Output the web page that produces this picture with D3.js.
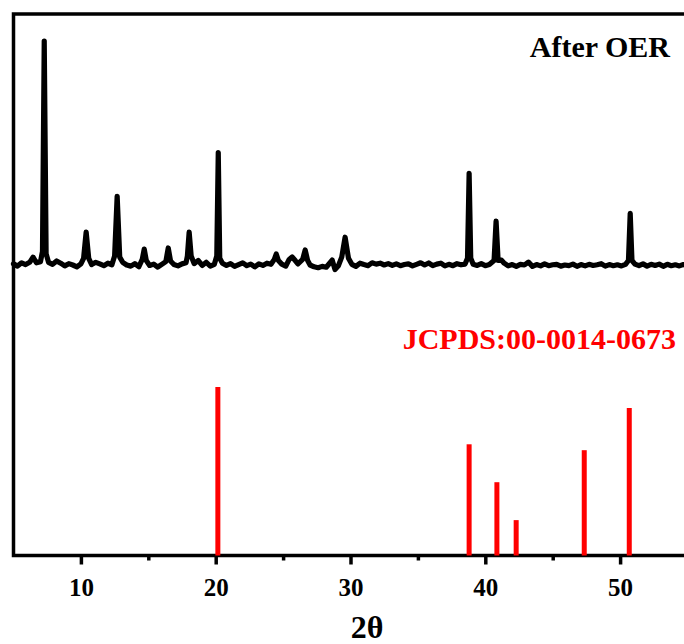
<!DOCTYPE html>
<html>
<head>
<meta charset="utf-8">
<script src="https://cdn.jsdelivr.net/npm/d3@7"></script>
<style>
  body { margin: 0; background: #fff; }
  text { font-family: "Times New Roman", "Liberation Serif", serif; font-weight: bold; }
</style>
</head>
<body>
<script>
// measured pattern, [2theta, intensity (a.u.)]
var pattern = [
  [5.0, 0.5], [5.3, -0.5], [5.6, 1.0], [5.9, 0.2], [6.2, 1.2], [6.45, 3.5], [6.7, 1.0], [7.0, 1.5],
  [7.15, 6], [7.28, 100], [7.42, 5], [7.6, 1.2], [7.9, 0.3], [8.2, 1.8], [8.5, 0.8], [8.8, -0.4],
  [9.1, 0.6], [9.4, 0.0], [9.7, -0.8], [10.0, 0.5], [10.2, 3], [10.39, 14.7], [10.58, 3], [10.8, 0.2],
  [11.1, 1.2], [11.4, 0.5], [11.7, -0.3], [12.0, 0.8], [12.3, 0.1], [12.5, 4], [12.69, 30.7], [12.88, 3.5],
  [13.1, 1.2], [13.4, 0.0], [13.7, -0.5], [14.0, 0.6], [14.3, -0.8], [14.55, 2.5], [14.7, 7.1], [14.85, 2],
  [15.1, -0.2], [15.4, 0.4], [15.7, -0.9], [16.0, 0.3], [16.3, 1.5], [16.48, 7.6], [16.65, 1.8], [16.9, 0.2],
  [17.2, -0.4], [17.5, 0.5], [17.8, 1.0], [17.9, 4], [18.03, 14.7], [18.18, 4], [18.4, 0.6], [18.7, 2.0],
  [19.0, -0.2], [19.3, 1.2], [19.6, -0.5], [19.9, 0.3], [20.08, 4], [20.19, 50.2], [20.3, 3], [20.5, 0.8],
  [20.8, -0.2], [21.1, 0.6], [21.4, -0.6], [21.7, 0.2], [22.0, 1.0], [22.3, -0.3], [22.6, 0.4], [22.9, -0.8],
  [23.2, 0.5], [23.5, -0.2], [23.8, 0.8], [24.1, 0.3], [24.35, 2.5], [24.49, 4.9], [24.65, 2], [24.9, 0.4],
  [25.2, -0.5], [25.45, 2.5], [25.67, 3.6], [25.9, 2.0], [26.1, 0.5], [26.45, 2.5], [26.64, 6.7], [26.82, 2],
  [27.0, 0.0], [27.3, -0.8], [27.6, -1.2], [27.9, -0.6], [28.2, -1.0], [28.45, 0.8], [28.64, 2.2], [28.85, -2.0],
  [29.1, -0.3], [29.35, 3.5], [29.6, 12.4], [29.85, 3], [30.1, 0.3], [30.4, -0.6], [30.7, 0.8], [31.0, 0.2],
  [31.3, -0.3], [31.6, 1.0], [31.9, 0.4], [32.2, 0.8], [32.5, 0.0], [32.8, 0.6], [33.1, -0.2], [33.4, 0.5],
  [33.7, -0.3], [34.0, 0.2], [34.3, 0.5], [34.6, -0.4], [34.9, 0.3], [35.2, 1.0], [35.5, 0.0], [35.8, 0.9],
  [36.1, -0.3], [36.4, 0.4], [36.7, 0.8], [37.0, -0.4], [37.3, 0.3], [37.6, -0.3], [37.9, 0.6], [38.2, 0.1],
  [38.5, 0.4], [38.68, 3], [38.8, 40.9], [38.92, 3], [39.1, 0.3], [39.4, -0.2], [39.7, 0.6], [40.0, -0.3],
  [40.3, 0.2], [40.65, 2], [40.8, 19.6], [40.95, 2], [41.2, 2.2], [41.4, 0.8], [41.7, -0.4], [42.0, 0.2],
  [42.3, -0.6], [42.6, 0.3], [42.9, 0.0], [43.2, 1.3], [43.5, -0.6], [43.8, 0.2], [44.1, -0.4], [44.4, 0.5],
  [44.7, -0.3], [45.0, 0.1], [45.3, 0.3], [45.6, -0.5], [45.9, 0.0], [46.2, -0.3], [46.5, 0.4], [46.8, -0.6],
  [47.1, 0.2], [47.4, -0.4], [47.7, 0.3], [48.0, -0.2], [48.3, 0.1], [48.6, 0.6], [48.9, -0.5], [49.2, 0.2],
  [49.5, -0.3], [49.8, 0.1], [50.1, -0.4], [50.4, 0.3], [50.62, 2], [50.75, 23.1], [50.88, 2], [51.1, 0.4],
  [51.4, -0.3], [51.7, 0.5], [52.0, -0.5], [52.3, 0.3], [52.6, -0.2], [52.9, 0.4], [53.2, -0.6], [53.5, 0.3],
  [53.8, -0.3], [54.1, 0.1], [54.4, -0.4], [54.7, 0.2], [55.0, -0.3]
];

// reference card lines
var refPos = [20.16, 38.8, 40.86, 42.29, 47.34, 50.68];
var refInt = [100, 66, 43.5, 21, 62.5, 87.5];

var majorTicks = [10, 20, 30, 40, 50];
var minorTicks = [15, 25, 35, 45, 55];

var sampleLabel = "After OER";
var refLabel = "JCPDS:00-0014-0673";
var xLabel = "2\u03b8";

var width = 684,
  height = 644,
  mLeft = 13.5,
  mTop = 14,
  mBottom = 555.5;

var x = d3.scaleLinear().domain([5, 56]).range([mLeft, mLeft + 51 * 13.48]);
var yPat = d3.scaleLinear().domain([0, 100]).range([265, 41]);
var yRef = d3.scaleLinear().domain([0, 100]).range([mBottom, 387]);

var svg = d3
  .select("body")
  .append("svg")
  .attr("width", width)
  .attr("height", height);

// frame
svg
  .append("rect")
  .attr("x", mLeft)
  .attr("y", mTop)
  .attr("width", x.range()[1] - mLeft)
  .attr("height", mBottom - mTop)
  .style("fill", "none")
  .style("stroke", "#000")
  .style("stroke-width", 3.5);

var xAxis = d3
  .axisBottom(x)
  .tickValues(majorTicks)
  .tickSize(9)
  .tickSizeOuter(0)
  .tickPadding(14)
  .tickFormat(d3.format("d"));

var gx = svg
  .append("g")
  .attr("transform", "translate(0," + mBottom + ")")
  .call(xAxis);
gx.select(".domain").remove();
gx.selectAll("line").style("stroke", "#000").style("stroke-width", 3.5);
gx.selectAll("text")
  .style("font-size", "25px")
  .style("fill", "#000")
  .attr("dy", "0.71em");

var gm = svg
  .append("g")
  .attr("transform", "translate(0," + mBottom + ")")
  .call(d3.axisBottom(x).tickValues(minorTicks).tickSize(5).tickFormat(""));
gm.select(".domain").remove();
gm.selectAll("line").style("stroke", "#000").style("stroke-width", 3.5);

svg
  .append("text")
  .attr("x", 367)
  .attr("y", 638)
  .style("text-anchor", "middle")
  .style("font-size", "32px")
  .text(xLabel);

// reference sticks
svg
  .append("g")
  .selectAll("line")
  .data(refPos)
  .enter()
  .append("line")
  .attr("x1", function (d) {
    return x(d);
  })
  .attr("x2", function (d) {
    return x(d);
  })
  .attr("y1", yRef(0))
  .attr("y2", function (d, i) {
    return yRef(refInt[i]);
  })
  .style("stroke", "#ff0000")
  .style("stroke-width", 5);

// measured pattern
var line = d3
  .line()
  .x(function (d) {
    return x(d[0]);
  })
  .y(function (d) {
    return yPat(d[1]);
  });

svg
  .append("path")
  .datum(pattern)
  .attr("d", line)
  .style("fill", "none")
  .style("stroke", "#000")
  .style("stroke-width", 5.2)
  .style("stroke-linejoin", "round")
  .style("stroke-linecap", "round");

svg
  .append("text")
  .attr("x", 670)
  .attr("y", 57)
  .style("text-anchor", "end")
  .style("font-size", "30px")
  .text(sampleLabel);

svg
  .append("text")
  .attr("x", 676)
  .attr("y", 349)
  .style("text-anchor", "end")
  .style("font-size", "30px")
  .style("fill", "#ff0000")
  .text(refLabel);
</script>
</body>
</html>
